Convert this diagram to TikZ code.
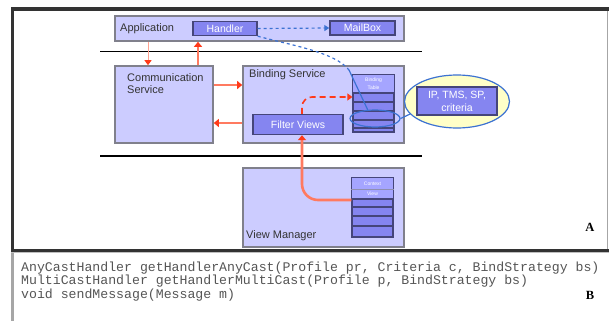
\documentclass[tikz,border=0pt]{standalone}
\usepackage{fontspec}
\setmainfont{Liberation Sans}
\newfontfamily\codefont{Liberation Mono}
\newfontfamily\letterfont{Liberation Serif}
\usetikzlibrary{arrows.meta,shapes.geometric,calc}
\definecolor{boxfill}{HTML}{CCCCFF}
\definecolor{boxline}{HTML}{80808C}
\definecolor{innerfill}{HTML}{8585F0}
\definecolor{innerline}{HTML}{45457A}
\definecolor{headfill}{HTML}{A5A5FF}
\definecolor{redl}{HTML}{FF7A60}
\definecolor{redh}{HTML}{FF3A1A}
\definecolor{bluel}{HTML}{3C72D2}
\definecolor{yell}{HTML}{FFFFC8}
\definecolor{framec}{HTML}{333333}
\definecolor{txt}{HTML}{333333}
\definecolor{codetxt}{HTML}{555555}
\tikzset{
  svcbox/.style={draw=boxline, line width=1.6pt, fill=boxfill, inner sep=0pt},
  innerbox/.style={draw=innerline, line width=1.4pt, fill=innerfill, inner sep=0pt,
    text=white, font=\fontsize{10.5}{13}\selectfont, align=center},
  stackbox/.style={draw=innerline, line width=1.2pt, fill=innerfill, inner sep=0pt},
  lbl/.style={inner sep=0pt, text=txt, font=\fontsize{11}{12}\selectfont, align=left},
  tiny/.style={inner sep=0pt, text=white, font=\fontsize{5}{5}\selectfont},
  redarrow/.style={draw=redl, line width=2.6pt, -{Triangle[width=8pt,length=5pt,fill=redh,color=redh]}},
  reddash/.style={draw=redh, line width=1.6pt, dash pattern=on 6pt off 4pt, -{Triangle[width=7pt,length=5pt,fill=redh,color=redh]}},
  thinred/.style={draw=redl!70, line width=1pt, -{Triangle[width=7pt,length=5pt,fill=redh,color=redh]}},
  bluedash/.style={draw=bluel, line width=1.2pt, dashed},
  blueline/.style={draw=bluel, line width=1.2pt},
  sepline/.style={draw=black, line width=1.6pt},
  code/.style={inner sep=0pt, text=codetxt, font=\codefont\fontsize{13.2}{13.5}\selectfont},
  letter/.style={inner sep=0pt, text=black, font=\letterfont\bfseries\fontsize{12.5}{13}\selectfont}
}
\begin{document}
\begin{tikzpicture}[x=1pt,y=-1pt]
\useasboundingbox (0,0) rectangle (609,321);
% frame
\draw[framec, line width=3.5pt] (11,9) -- (609,9);
\draw[framec, line width=3pt] (12.5,7.5) -- (12.5,251);
\draw[gray!70, line width=3pt] (12.5,251) -- (12.5,321);
\draw[gray!70, line width=1pt] (607.5,11) -- (607.5,250);
\draw[framec, line width=3pt] (11,250) -- (609,250);
\draw[gray!50, line width=1pt] (11,252.5) -- (609,252.5);
% separators
\draw[sepline] (100,51.5) -- (422,51.5);
\draw[sepline] (100,156) -- (422,156);
% application
\node[svcbox, minimum width=289pt, minimum height=25pt] (app) at (259.5,28.5) {};
\node[lbl, anchor=base west] (applbl) at (120,31) {Application};
\node[innerbox, minimum width=64pt, minimum height=14pt] (handler) at (225,28.5) {Handler};
\node[innerbox, minimum width=65pt, minimum height=14pt] (mailbox) at (362.5,28) {MailBox};
% communication service
\node[svcbox, minimum width=98pt, minimum height=77pt] (comm) at (164,104.5) {};
\node[lbl, anchor=base west] (commlbl1) at (127,81) {Communication};
\node[lbl, anchor=base west] (commlbl2) at (127,93) {Service};
% binding service
\node[svcbox, minimum width=161pt, minimum height=77pt] (bind) at (323.5,104.5) {};
\node[lbl, anchor=base west] (bindlbl) at (249,77) {Binding Service};
\node[innerbox, minimum width=90pt, minimum height=20pt] (filter) at (298,124.5) {Filter Views};
\node[stackbox, minimum width=41pt, minimum height=57pt] (bstack) at (373.5,103.5) {};
\fill[headfill] ([shift={(0.8pt,-0.8pt)}]bstack.north west) rectangle ([shift={(-0.8pt,0pt)}]bstack.east |- 0,93);
\foreach \yy in {93,102,111,120,128}
  \draw[innerline, line width=1.6pt] (bstack.west |- 0,\yy) -- (bstack.east |- 0,\yy);
\node[tiny] (bhead1) at (373.5,80) {Binding};
\node[tiny] (bhead2) at (373.5,88) {Table};
% criteria ellipse
\node[ellipse, draw=bluel, line width=1.2pt, fill=yell, minimum width=105pt, minimum height=53pt, inner sep=0pt] (critell) at (457,101.5) {};
\node[innerbox, minimum width=80pt, minimum height=28pt] (critbox) at (457,101) {IP, TMS, SP,\\criteria};
\node[ellipse, draw=bluel, line width=1.2pt, minimum width=50pt, minimum height=17pt, inner sep=0pt] (smallell) at (375,118.5) {};
% view manager
\node[svcbox, minimum width=161pt, minimum height=79pt] (vm) at (323.5,207.5) {};
\node[lbl, anchor=base west] (vmlbl) at (246,238) {View Manager};
\node[stackbox, minimum width=41pt, minimum height=59pt] (cstack) at (372.5,207.5) {};
\fill[headfill] ([shift={(0.8pt,-0.8pt)}]cstack.north west) rectangle ([shift={(-0.8pt,0pt)}]cstack.east |- 0,199);
\draw[innerline!60, line width=1pt] (cstack.west |- 0,189) -- (cstack.east |- 0,189);
\foreach \yy in {199,207,216,226}
  \draw[innerline, line width=1.6pt] (cstack.west |- 0,\yy) -- (cstack.east |- 0,\yy);
\node[tiny] (chead1) at (372.5,184) {Context};
\node[tiny] (chead2) at (372.5,194) {View};
% red connectors
\draw[thinred] (148,0 |- app.south) -- (148,0 |- comm.north);
\draw[redarrow] (198,0 |- comm.north) -- (198,0 |- app.south);
\draw[redarrow] (comm.east |- 0,85) -- (bind.west |- 0,85);
\draw[redarrow] (bind.west |- 0,123) -- (comm.east |- 0,123);
\draw[reddash, rounded corners=10pt] (302,0 |- filter.north) |- (bstack.west |- 0,97);
\draw[redarrow, rounded corners=16pt] (cstack.west |- 0,200) -| (302,0 |- filter.south);
% blue connectors
\draw[bluedash, -{Triangle[width=6pt,length=5pt]}] (handler.east) -- (mailbox.west);
\coordinate (bend) at (349,70);
\draw[bluedash] (handler.south east) .. controls (290,45) and (335,52) .. (bend);
\draw[blueline] (bend) -- (smallell.130);
\draw[blueline] (smallell.east) -- (critell.195);
% labels
\node[letter] (la) at (590,227) {A};
\node[letter] (lb) at (590,295) {B};
% code
\node[code, anchor=base west] (c1) at (21,271) {AnyCastHandler getHandlerAnyCast(Profile pr, Criteria c, BindStrategy bs)};
\node[code, anchor=base west] (c2) at (21,284.5) {MultiCastHandler getHandlerMultiCast(Profile p, BindStrategy bs)};
\node[code, anchor=base west] (c3) at (21,298) {void sendMessage(Message m)};
\end{tikzpicture}
\end{document}
